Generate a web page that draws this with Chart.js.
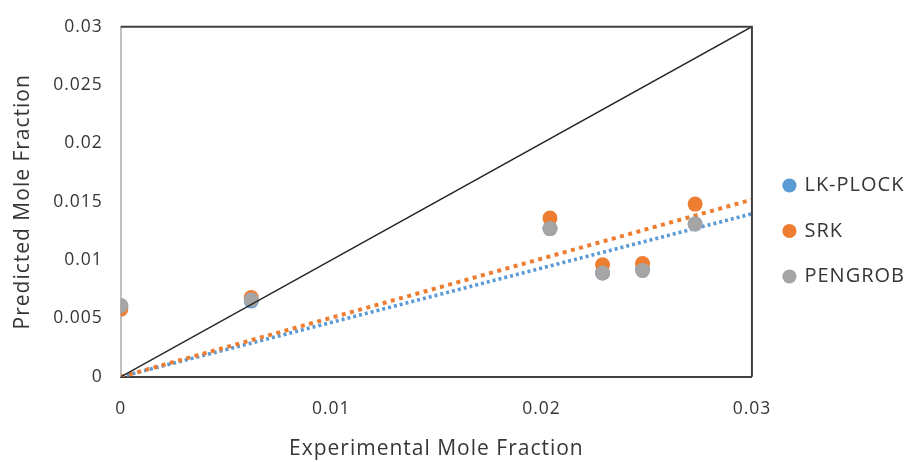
<!DOCTYPE html>
<html lang="en">
<head>
    <meta charset="UTF-8">
    <title>Predicted vs Experimental Mole Fraction</title>
    <script src="https://cdn.jsdelivr.net/npm/chart.js"></script>
    <style>
        body {
            margin: 0;
            background: #ffffff;
        }
        .wrap {
            width: 906px;
            height: 462px;
        }
    </style>
</head>
<body>
    <div class="wrap">
        <canvas id="moleChart"></canvas>
    </div>

    <script>
        // experimental mole fraction for each sample
        const expX = [0, 0.0062, 0.0204, 0.0229, 0.0248, 0.0273];
        // predicted mole fraction per equation of state
        const lkPlock = [0.0060, 0.0065, 0.0127, 0.0089, 0.0092, 0.0131];
        const srk = [0.0058, 0.0068, 0.0136, 0.0096, 0.0097, 0.0148];
        const pengRob = [0.0061, 0.0066, 0.0127, 0.0089, 0.0091, 0.0131];
        const seriesNames = ['LK-PLOCK', 'SRK', 'PENGROB'];
        const xTicks = [0, 0.01, 0.02, 0.03];
        const yTicks = [0, 0.005, 0.01, 0.015, 0.02, 0.025, 0.03];

        const blue = '#5b9bd5';
        const orange = '#ed7d31';
        const gray = '#a5a5a5';
        const textColor = '#363636';
        const font = "'Open Sans', sans-serif";

        function pts(ys) {
            return expX.map((x, i) => ({ x: x, y: ys[i] }));
        }

        // linear trendline forced through the origin (least squares)
        function trend(ys) {
            let sxy = 0, sxx = 0;
            expX.forEach((x, i) => { sxy += x * ys[i]; sxx += x * x; });
            const k = sxy / sxx;
            const xEnd = xTicks[xTicks.length - 1];
            return [{ x: 0, y: 0 }, { x: xEnd, y: k * xEnd }];
        }

        function pointSet(label, ys, color, order) {
            return {
                label: label,
                data: pts(ys),
                backgroundColor: color,
                borderColor: color,
                pointRadius: 7.5,
                pointHoverRadius: 7.5,
                borderWidth: 0,
                order: order
            };
        }

        // wider text tracking, plus top/right edges of the plot frame
        const frame = {
            id: 'frame',
            beforeLayout(chart) {
                chart.ctx.letterSpacing = '1px';
            },
            afterLayout(chart) {
                // leave a little gap between the plot and the legend
                chart.legend.left += 7;
                chart.legend.right += 7;
            },
            beforeDraw(chart) {
                chart.ctx.letterSpacing = '1px';
            },
            afterDatasetsDraw(chart) {
                const a = chart.chartArea;
                const c = chart.ctx;
                c.save();
                c.strokeStyle = '#404040';
                c.lineWidth = 2;
                c.beginPath();
                c.moveTo(a.left, a.top);
                c.lineTo(a.right, a.top);
                c.lineTo(a.right, a.bottom);
                c.stroke();
                c.restore();
            }
        };

        const ctx = document.getElementById('moleChart').getContext('2d');
        const chart = new Chart(ctx, {
            type: 'scatter',
            data: {
                datasets: [
                    pointSet(seriesNames[0], lkPlock, blue, 3),
                    pointSet(seriesNames[1], srk, orange, 2),
                    pointSet(seriesNames[2], pengRob, gray, 1),
                    {
                        label: 'y = x',
                        data: [{ x: 0, y: 0 }, { x: 0.03, y: 0.03 }],
                        showLine: true,
                        borderColor: '#262626',
                        borderWidth: 1.5,
                        pointRadius: 0,
                        order: 0
                    },
                    {
                        label: 'LK-PLOCK trend',
                        data: trend(lkPlock),
                        showLine: true,
                        borderColor: blue,
                        borderWidth: 3.5,
                        borderDash: [3, 3],
                        pointRadius: 0,
                        order: 5
                    },
                    {
                        label: 'SRK trend',
                        data: trend(srk),
                        showLine: true,
                        borderColor: orange,
                        borderWidth: 4,
                        borderDash: [4, 4.5],
                        pointRadius: 0,
                        order: 4
                    }
                ]
            },
            options: {
                responsive: true,
                maintainAspectRatio: false,
                animation: false,
                layout: {
                    padding: { top: 0, right: -2, left: 0, bottom: 0 }
                },
                plugins: {
                    tooltip: { enabled: false },
                    legend: {
                        position: 'right',
                        labels: {
                            usePointStyle: true,
                            pointStyle: 'circle',
                            boxWidth: 10,
                            boxHeight: 10,
                            padding: 25.5,
                            color: textColor,
                            font: { family: font, size: 20 },
                            filter: item => item.datasetIndex < 3,
                            sort: (a, b) => a.datasetIndex - b.datasetIndex
                        }
                    }
                },
                scales: {
                    x: {
                        type: 'linear',
                        min: 0,
                        max: 0.03,
                        afterBuildTicks: axis => { axis.ticks = xTicks.map(v => ({ value: v })); },
                        grid: { display: false, drawTicks: false },
                        border: { color: '#404040', width: 2 },
                        ticks: {
                            padding: 22,
                            color: textColor,
                            font: { family: font, size: 17.5 },
                            callback: v => String(Number(v.toFixed(3)))
                        },
                        title: {
                            display: true,
                            text: 'Experimental Mole Fraction',
                            color: textColor,
                            font: { family: font, size: 21 },
                            padding: { top: -5, bottom: 0 }
                        }
                    },
                    y: {
                        type: 'linear',
                        min: 0,
                        max: 0.03,
                        afterBuildTicks: axis => { axis.ticks = yTicks.map(v => ({ value: v })); },
                        grid: { display: false, drawTicks: false },
                        border: { color: '#bfbfbf', width: 2 },
                        ticks: {
                            padding: 18,
                            color: textColor,
                            font: { family: font, size: 17.5, lineHeight: 1 },
                            callback: v => String(Number(v.toFixed(3)))
                        },
                        title: {
                            display: true,
                            text: 'Predicted Mole Fraction',
                            color: textColor,
                            font: { family: font, size: 21 },
                            padding: { top: 10, bottom: 0 }
                        }
                    }
                }
            },
            plugins: [frame]
        });
    </script>
</body>
</html>
